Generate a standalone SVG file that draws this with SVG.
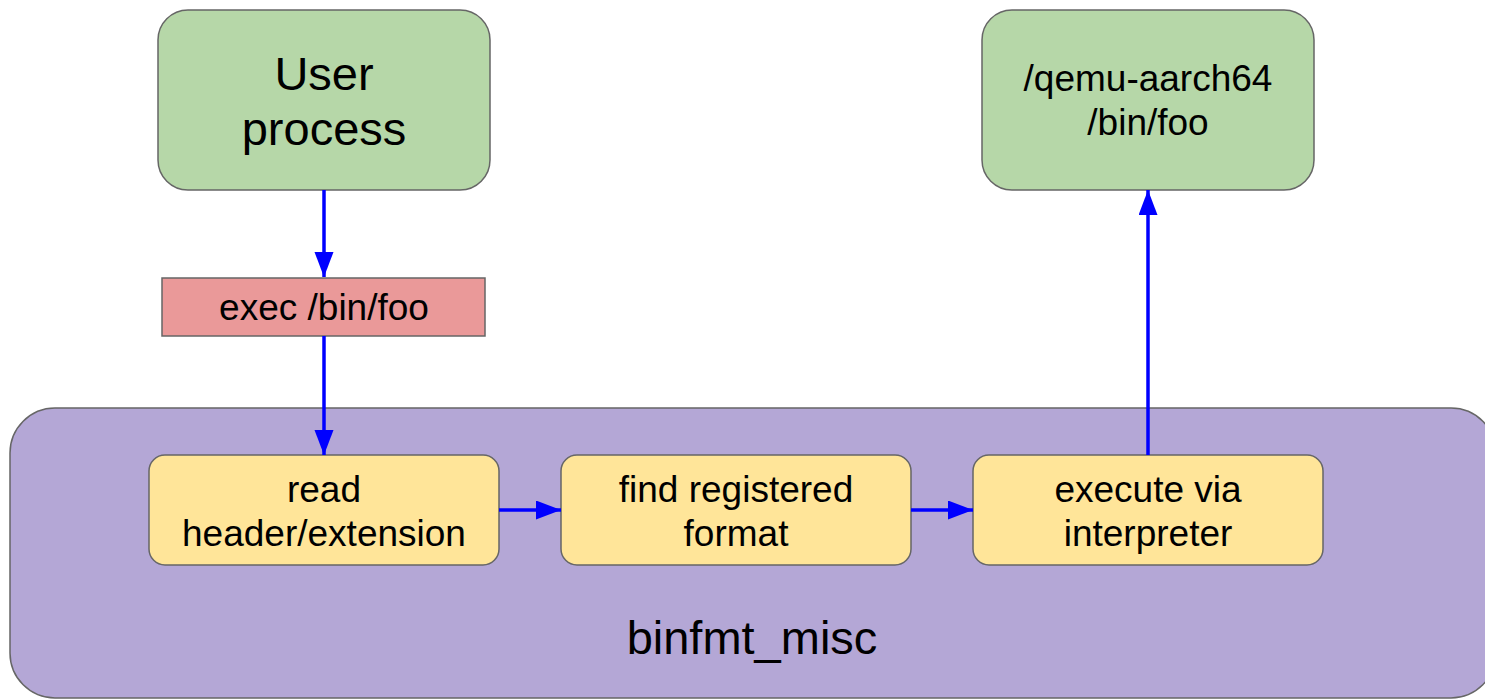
<svg xmlns="http://www.w3.org/2000/svg" width="1485" height="700" viewBox="0 0 1485 700">
  <style>
    .box { stroke: #666666; stroke-width: 1.5; }
    .green { fill: #b6d7a8; }
    .red { fill: #ea9999; }
    .purple { fill: #b4a7d6; }
    .yellow { fill: #ffe599; }
    text { font-family: "Liberation Sans", Arial, sans-serif; fill: #000000; text-anchor: middle; }
    .big { font-size: 47px; }
    .small { font-size: 37px; }
    .edge { stroke: #0000ff; stroke-width: 3.5; fill: none; marker-end: url(#arrow); }
  </style>
  <defs>
    <marker id="arrow" markerUnits="userSpaceOnUse" markerWidth="26" markerHeight="20" refX="25" refY="9.5" orient="auto">
      <path d="M0,0 L25,9.5 L0,19 Z" fill="#0000ff"/>
    </marker>
  </defs>
  <rect width="1485" height="700" fill="#ffffff"/>

  <!-- kernel container; its right edge runs past the canvas -->
  <g id="binfmt_misc">
    <rect class="box purple" x="10" y="408" width="1486" height="290" rx="45" ry="45"/>
    <text class="big" x="752" y="654">binfmt_misc</text>
  </g>

  <g id="user_process">
    <rect class="box green" x="158" y="10" width="332" height="180" rx="30" ry="30"/>
    <text class="big" x="324" y="90">User</text>
    <text class="big" x="324" y="145">process</text>
  </g>

  <g id="exec_call">
    <rect class="box red" x="162" y="278" width="323" height="58"/>
    <text class="small" x="324" y="320">exec /bin/foo</text>
  </g>

  <g id="qemu_process">
    <rect class="box green" x="982" y="10" width="332" height="180" rx="30" ry="30"/>
    <text class="small" x="1148" y="91">/qemu-aarch64</text>
    <text class="small" x="1148" y="135">/bin/foo</text>
  </g>

  <g id="read_header">
    <rect class="box yellow" x="149" y="455" width="350" height="110" rx="16" ry="16"/>
    <text class="small" x="324" y="502">read</text>
    <text class="small" x="324" y="546">header/extension</text>
  </g>

  <g id="find_format">
    <rect class="box yellow" x="561" y="455" width="350" height="110" rx="16" ry="16"/>
    <text class="small" x="736" y="502">find registered</text>
    <text class="small" x="736" y="546">format</text>
  </g>

  <g id="execute_interp">
    <rect class="box yellow" x="973" y="455" width="350" height="110" rx="16" ry="16"/>
    <text class="small" x="1148" y="502">execute via</text>
    <text class="small" x="1148" y="546">interpreter</text>
  </g>

  <g id="connectors">
    <line class="edge" x1="324" y1="190" x2="324" y2="277"/>
    <line class="edge" x1="324" y1="336" x2="324" y2="455"/>
    <line class="edge" x1="499" y1="510" x2="561" y2="510"/>
    <line class="edge" x1="911" y1="510" x2="973" y2="510"/>
    <line class="edge" x1="1148" y1="455" x2="1148" y2="190"/>
  </g>
</svg>
